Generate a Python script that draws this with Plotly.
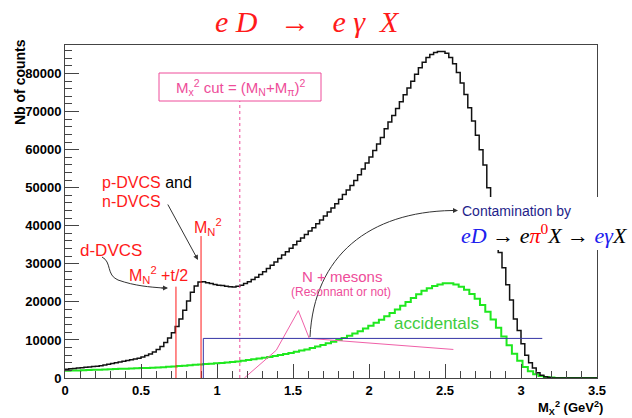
import numpy as np
import plotly.graph_objects as go

# ---------------- data ----------------
black_bin_width = 0.025
black_counts = [
    2300, 2400, 2500, 2600, 2700, 2800, 2900, 3000, 3100, 3200,
    3400, 3600, 3800, 4000, 4200, 4400, 4600, 4800, 5000, 5200,
    5500, 5900, 6300, 6800, 7500, 8300, 9300, 10500, 11900, 13500,
    15500, 17800, 20200, 22500, 24200, 25200, 25300, 25000, 24800, 24600,
    24400, 24300, 24100, 24000, 23900, 24100, 24400, 24800, 25300, 25900,
    26500, 27200, 27900, 28800, 29600, 30500, 31400, 32300, 33200, 34100,
    35000, 35900, 36800, 37700, 38600, 39500, 40500, 41500, 42600, 43600,
    44700, 45800, 47000, 48200, 49400, 50600, 51900, 53400, 54900, 56500,
    58100, 59800, 61500, 63200, 65500, 67300, 69000, 70800, 72600, 74400,
    76200, 78000, 79800, 81500, 83000, 84200, 85000, 85500, 85800, 85800,
    85300, 84200, 82600, 80300, 77500, 74500, 71000, 67500, 63800, 60000,
    56000, 50000, 43000, 37500, 33000, 29000, 24500, 20500, 15500, 12500,
    9000, 6000, 4000, 2600, 1400, 700, 300, 100, 0, 0,
    0, 0, 0, 0, 0, 0, 0, 0, 0, 0,
]

green_bin_width = 0.035
accidental_counts = [
    1900, 1950, 2000, 2050, 2100, 2150, 2200, 2250, 2300, 2350,
    2400, 2450, 2500, 2550, 2600, 2650, 2700, 2750, 2850, 2950,
    3050, 3150, 3250, 3350, 3450, 3550, 3650, 3750, 3850, 3950,
    4050, 4200, 4350, 4500, 4700, 4900, 5100, 5300, 5550, 5800,
    6050, 6300, 6600, 6900, 7200, 7500, 7900, 8300, 8700, 9100,
    9500, 10000, 10500, 11100, 11700, 12300, 13000, 13700, 14500, 15300,
    16200, 17100, 18000, 19000, 20000, 21000, 22000, 22900, 23600, 24200,
    24600, 24900, 24900, 24600, 24000, 23200, 22100, 20800, 19200, 17400,
    15400, 13200, 10900, 8600, 6400, 4500, 2900, 1800, 1000, 500,
    250, 100, 0, 0, 0, 0, 0, 0, 0, 0,
]

# N + mesons sketch line (x in GeV^2, counts)
mesons_x = [1.18, 1.39, 1.535, 1.607, 2.555]
mesons_y = [0, 7300, 17700, 10400, 7500]

# marker values
mn2_t2 = 0.73          # M_N^2 + t/2
mn2 = 0.895            # M_N^2
mx2_cut = 1.15         # (M_N + M_pi)^2
blue_box_x = [0.91, 0.91, 3.14]
blue_box_y = [0, 10400, 10400]

x_ticks = [0, 0.5, 1, 1.5, 2, 2.5, 3, 3.5]
x_tick_labels = ["0", "0.5", "1", "1.5", "2", "2.5", "3", "3.5"]
y_ticks = [0, 10000, 20000, 30000, 40000, 50000, 60000, 70000, 80000]
y_tick_labels = ["0", "10000", "20000", "30000", "40000", "50000", "60000", "70000", "80000"]

# ---------------- geometry helpers ----------------
W, H = 632, 418
L, R, T, B = 65, 35, 45, 40
X0, X1 = 65, 597
Y0, Y1 = 378, 45
XMAX, YMAX = 3.5, 87500
SANS = "Liberation Sans"
SERIF = "Liberation Serif"


def dx(px):
    return (px - X0) / (X1 - X0) * XMAX


def dy(py):
    return (Y0 - py) / (Y0 - Y1) * YMAX


def paper_x(px):
    return (px - X0) / (X1 - X0)


def paper_y(py):
    return (Y0 - py) / (Y0 - Y1)


def path_px(points):
    s = "M {:.4f},{:.2f} ".format(dx(points[0][0]), dy(points[0][1]))
    for i in range(1, len(points), 3):
        p1, p2, p3 = points[i], points[i + 1], points[i + 2]
        s += "C {:.4f},{:.2f} {:.4f},{:.2f} {:.4f},{:.2f} ".format(
            dx(p1[0]), dy(p1[1]), dx(p2[0]), dy(p2[1]), dx(p3[0]), dy(p3[1]))
    return s


def hist_xy(counts, width):
    edges = np.arange(len(counts) + 1) * width
    return edges, list(counts) + [counts[-1]]


def bold(labels):
    return ["<b>{}</b>".format(s) for s in labels]


fig = go.Figure()

gx, gy = hist_xy(accidental_counts, green_bin_width)
fig.add_trace(go.Scatter(x=gx, y=gy, mode="lines", line_shape="hv",
                         line=dict(color="#1fe81f", width=2), hoverinfo="skip"))
bx, by = hist_xy(black_counts, black_bin_width)
fig.add_trace(go.Scatter(x=bx, y=by, mode="lines", line_shape="hv",
                         line=dict(color="#111111", width=1.5), hoverinfo="skip"))
fig.add_trace(go.Scatter(x=mesons_x, y=mesons_y, mode="lines",
                         line=dict(color="#f060a8", width=1), hoverinfo="skip"))
fig.add_trace(go.Scatter(x=blue_box_x, y=blue_box_y, mode="lines",
                         line=dict(color="#3535a5", width=1), hoverinfo="skip"))

RED = "#ff1a1a"
PINK = "#ee4d9a"

shapes = [
    dict(type="line", xref="x", yref="y", x0=mn2_t2, x1=mn2_t2, y0=0, y1=24000,
         line=dict(color=RED, width=1)),
    dict(type="line", xref="x", yref="y", x0=mn2, x1=mn2, y0=0, y1=37300,
         line=dict(color=RED, width=1)),
    dict(type="line", xref="x", yref="y", x0=mx2_cut, x1=mx2_cut, y0=0, y1=dy(101),
         line=dict(color=PINK, width=1, dash="dot")),
    dict(type="rect", xref="x", yref="y", x0=dx(159), x1=dx(321), y0=dy(101), y1=dy(73),
         line=dict(color=PINK, width=1), fillcolor="white", layer="above"),
    # white patch behind the contamination text
    dict(type="rect", xref="paper", yref="paper", x0=paper_x(459), x1=paper_x(632),
         y0=paper_y(250), y1=paper_y(197), line=dict(width=0), fillcolor="white",
         layer="above"),
    # curved arrow from N+mesons to contamination text
    dict(type="path", xref="x", yref="y",
         path=path_px([(310, 337), (314, 255), (370, 212), (452, 210.5)]),
         line=dict(color="#333333", width=1)),
    # curved arrow from d-DVCS
    dict(type="path", xref="x", yref="y",
         path=path_px([(102, 257), (112, 262), (106, 275), (118, 280),
                       (135, 286), (150, 287), (163, 288)]),
         line=dict(color="#333333", width=1)),
]

ann = []


def text(px, py, s, size, color, xanchor="center", font=SANS, **kw):
    ann.append(dict(x=paper_x(px), y=paper_y(py), xref="paper", yref="paper", text=s,
                    showarrow=False, xanchor=xanchor, yanchor="middle",
                    font=dict(size=size, color=color, family=font), **kw))


def arrow(tip_px, tip_py, from_px, from_py, color="#333333"):
    ann.append(dict(x=dx(tip_px), y=dy(tip_py), xref="x", yref="y", text="",
                    showarrow=True, ax=from_px - tip_px, ay=from_py - tip_py,
                    arrowhead=2, arrowsize=1, arrowwidth=1, arrowcolor=color,
                    standoff=0))


# title
text(307, 22, "<i>e&nbsp;D&nbsp;&nbsp;&nbsp;→&nbsp;&nbsp;&nbsp;e&nbsp;γ&nbsp;&nbsp;X</i>",
     30, RED, font=SERIF)
# axis titles
ann.append(dict(x=paper_x(20), y=paper_y(37), xref="paper", yref="paper",
                text="<b>Nb of counts</b>", showarrow=False, textangle=-90,
                xanchor="center", yanchor="top",
                font=dict(size=14, color="black", family=SANS)))
text(605, 408, "<b>M<sub>X</sub><sup>2</sup> (GeV<sup>2</sup>)</b>", 13, "black",
     xanchor="right")

# cut box text
text(240, 87, "M<sub>x</sub><sup>2</sup> cut = (M<sub>N</sub>+M<sub>π</sub>)<sup>2</sup>",
     15, PINK)

# DVCS labels
text(100, 182, "p-DVCS <span style='color:black'>and</span>", 16, RED, xanchor="left")
text(100, 201, "n-DVCS", 16, RED, xanchor="left")
arrow(198, 260, 167, 203)
text(208, 227, "M<sub>N</sub><sup>2</sup>", 16, RED)
text(78, 250, "d-DVCS", 17, RED, xanchor="left")
arrow(168, 288, 160, 288)
text(127, 275, "M<sub>N</sub><sup>2</sup> +t/2", 16, RED, xanchor="left")

# N + mesons
text(342, 276, "N + mesons", 15, PINK)
text(341, 292, "(Resonnant or not)", 12, PINK)
# accidentals
text(436, 323, "accidentals", 17, "#3fcc3f")
# contamination
text(460, 211, "Contamination by", 14, "#1e1e8a", xanchor="left")
text(459, 234,
     "<span style='color:#2020ee'><i>eD</i></span> → <i>e</i>"
     "<span style='color:#ff0000'><i>π</i><sup>0</sup></span><i>X</i> → "
     "<span style='color:#2020ee'><i>eγ</i></span><i>X</i>",
     22, "black", xanchor="left", font=SERIF)
arrow(458, 210.5, 450, 210.5)

axis_common = dict(showgrid=False, zeroline=False, showline=True, linecolor="#444444",
                   linewidth=1, mirror=True, ticks="inside", ticklen=14,
                   tickcolor="#444444",
                   tickfont=dict(size=13, family=SANS, color="black"))

fig.update_layout(
    width=W, height=H, margin=dict(l=L, r=R, t=T, b=B),
    paper_bgcolor="white", plot_bgcolor="white", showlegend=False,
    shapes=shapes, annotations=ann,
    xaxis=dict(range=[0, XMAX], tickvals=x_ticks, ticktext=bold(x_tick_labels),
               minor=dict(ticks="inside", ticklen=7, dtick=0.1, tick0=0,
                          tickcolor="#444444"),
               **axis_common),
    yaxis=dict(range=[0, YMAX], tickvals=y_ticks, ticktext=bold(y_tick_labels),
               minor=dict(ticks="inside", ticklen=7, dtick=2000, tick0=0,
                          tickcolor="#444444"),
               **axis_common),
)

fig.write_html("out.html")
